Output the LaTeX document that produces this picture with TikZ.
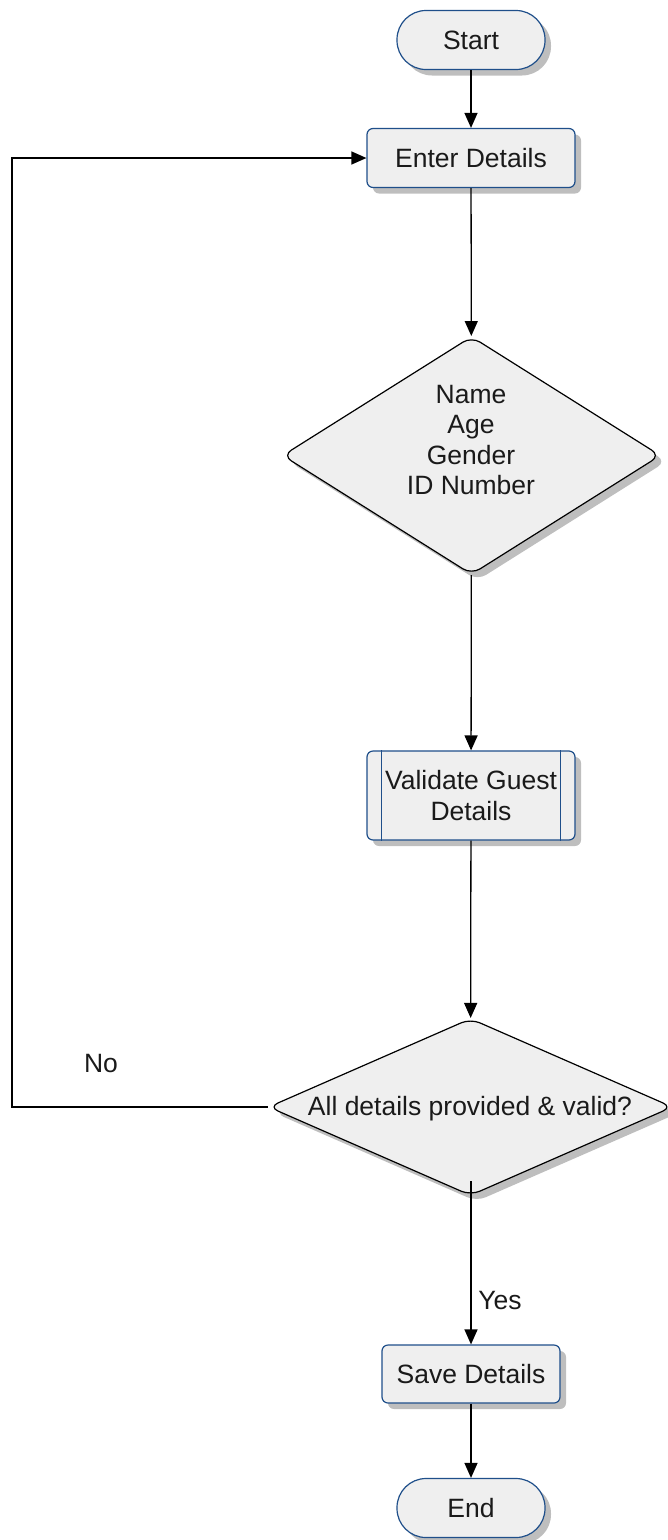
\documentclass[tikz,border=0pt]{standalone}
\usepackage{fontspec}
\setmainfont{Liberation Sans}
\usetikzlibrary{arrows.meta,shapes.geometric,shadows}
\definecolor{boxblue}{HTML}{1F4F8A}
\definecolor{boxfill}{HTML}{EFEFEF}
\definecolor{shadowgray}{HTML}{BEBEBE}
\definecolor{textc}{HTML}{1A1A1A}
\begin{document}
\begin{tikzpicture}[x=1pt,y=-1pt,
  every node/.style={font=\fontsize{26.5}{30.2}\selectfont, text=textc},
  shade/.style={drop shadow={shadow xshift=6pt, shadow yshift=-6pt, fill=shadowgray, opacity=1}},
  box/.style={draw=boxblue, line width=1.2pt, fill=boxfill, rounded corners=6pt, shade, inner sep=0pt, align=center},
  terminal/.style={box, rounded corners=29pt, minimum width=148pt, minimum height=59pt},
  decision/.style={shape=diamond, draw=black, line width=1.2pt, fill=boxfill, rounded corners=10pt, shade, inner sep=0pt},
  dtext/.style={align=center, inner sep=0pt},
  conn/.style={draw=black, line width=1.3pt, -{Triangle[length=15pt,width=13pt]}},
  lbl/.style={inner sep=0pt}
]
\useasboundingbox (0,0) rectangle (667,1540);

% process steps
\node[terminal] (start) at (471,40) {Start};
\node[box, minimum width=208pt, minimum height=59pt] (enter) at (471,158) {Enter Details};
\node[decision, minimum width=378pt, minimum height=238pt] (d1) at (471.5,455.5) {};
\node[dtext] (d1t) at (471,440) {Name\\Age\\Gender\\ID Number};
\node[box, minimum width=208pt, minimum height=89pt] (val) at (471,795.5) {Validate Guest\\Details};
\draw[boxblue, line width=1.2pt] ([xshift=15pt]val.north west) -- ([xshift=15pt]val.south west);
\draw[boxblue, line width=1.2pt] ([xshift=-15pt]val.north east) -- ([xshift=-15pt]val.south east);
\node[decision, minimum width=404pt, minimum height=177pt] (d2) at (470.5,1107) {};
\node[dtext] (d2t) at (470,1109) {All details provided \& valid?};
\node[box, minimum width=178pt, minimum height=58pt] (save) at (471,1374) {Save Details};
\node[terminal] (end) at (471,1508) {End};

% connectors
\coordinate (d2out) at (471,1181);
\coordinate (loop) at (12,1107);
\draw[conn] (start) -- (enter);
\draw[conn] (enter) -- (d1);
\draw[conn] (d1) -- (val);
\draw[conn] (val) -- (d2);
\draw[conn] (d2out) -- (save);
\draw[conn] (save) -- (end);
\draw[conn] (d2.west) -- (loop) |- (enter.west);

% branch labels
\node[lbl] (no) at (101,1063) {No};
\node[lbl] (yes) at (500,1300) {Yes};
\end{tikzpicture}
\end{document}
